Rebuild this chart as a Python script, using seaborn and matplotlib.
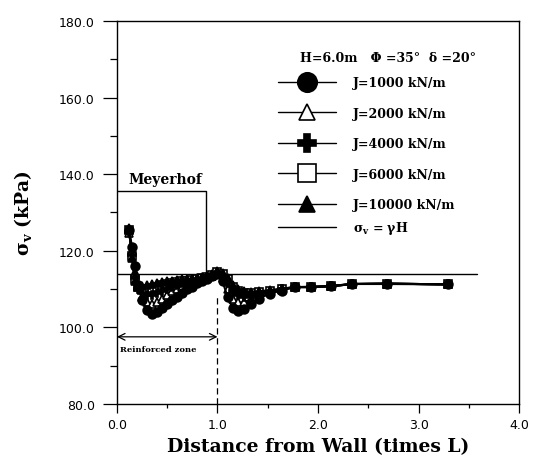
import numpy as np
import pandas as pd
import seaborn as sns
import matplotlib
matplotlib.use("Agg")
import matplotlib.pyplot as plt
from matplotlib.lines import Line2D
from matplotlib.ticker import MultipleLocator, FormatStrFormatter

# Distance from wall (times L) at which stresses were evaluated
distance = [0.12, 0.15, 0.18, 0.21, 0.25, 0.30, 0.35, 0.40, 0.45, 0.50,
            0.55, 0.60, 0.65, 0.70, 0.75, 0.80, 0.85, 0.90, 0.95, 1.00,
            1.05, 1.10, 1.15, 1.20, 1.26, 1.33, 1.41, 1.52, 1.64, 1.77,
            1.93, 2.13, 2.34, 2.69, 3.29]

# Vertical stress (kPa) for each reinforcement stiffness
sv_j1000 = [125.5, 121.0, 116.0, 111.0, 107.0, 104.5, 103.5, 104.0, 105.0, 106.0,
            107.0, 108.0, 109.0, 110.0, 110.5, 111.5, 112.0, 112.5, 113.5, 114.0,
            112.0, 108.0, 105.0, 104.3, 104.8, 106.0, 107.5, 108.8, 109.6, 110.5,
            110.5, 110.8, 111.3, 111.3, 111.2]
sv_j2000 = [124.5, 120.0, 114.5, 110.5, 108.0, 106.5, 106.0, 106.5, 107.5, 108.5,
            109.5, 110.0, 110.5, 111.0, 111.5, 112.0, 112.5, 113.0, 113.5, 114.0,
            113.0, 110.0, 107.5, 106.5, 106.5, 107.3, 108.2, 109.2, 109.8, 110.5,
            110.6, 110.8, 111.3, 111.4, 111.2]
sv_j4000 = [125.0, 119.0, 113.0, 110.0, 109.0, 108.5, 108.5, 109.0, 109.5, 110.0,
            110.5, 111.0, 111.5, 111.8, 112.0, 112.3, 112.5, 113.0, 113.5, 114.2,
            113.5, 111.5, 109.5, 108.3, 108.0, 108.2, 108.7, 109.3, 110.0, 110.5,
            110.5, 110.7, 111.3, 111.4, 111.2]
sv_j6000 = [125.5, 118.5, 112.5, 110.5, 110.0, 110.0, 110.2, 110.5, 111.0, 111.3,
            111.6, 111.8, 112.0, 112.2, 112.4, 112.6, 112.8, 113.1, 113.6, 114.4,
            114.0, 112.5, 110.5, 109.5, 109.0, 109.0, 109.2, 109.5, 110.0, 110.5,
            110.5, 110.7, 111.3, 111.4, 111.2]
sv_j10000 = [126.0, 118.0, 112.0, 111.0, 110.8, 111.0, 111.2, 111.5, 111.8, 112.0,
             112.2, 112.4, 112.5, 112.6, 112.7, 112.9, 113.1, 113.4, 113.8, 114.6,
             114.2, 113.0, 111.0, 110.0, 109.5, 109.3, 109.4, 109.7, 110.1, 110.5,
             110.5, 110.7, 111.3, 111.4, 111.2]

series_labels = ["J=1000 kN/m", "J=2000 kN/m", "J=4000 kN/m",
                 "J=6000 kN/m", "J=10000 kN/m"]
series_values = [sv_j1000, sv_j2000, sv_j4000, sv_j6000, sv_j10000]

# Reference lines
gamma_h = 114.0            # overburden stress gamma*H
gamma_h_extent = [0.0, 3.58]
meyerhof_width = 0.89
meyerhof_stress = 135.7
reinforced_length = 1.0

x_ticks = [0.0, 1.0, 2.0, 3.0, 4.0]
y_ticks = [80.0, 100.0, 120.0, 140.0, 160.0, 180.0]

sns.set_theme(style="ticks")
plt.rcParams["font.family"] = ["DejaVu Sans"]
plt.rcParams["text.color"] = "black"
plt.rcParams["axes.labelcolor"] = "black"
serif = ["DejaVu Serif"]

fig = plt.figure(figsize=(5.39, 4.60), dpi=100)
ax = fig.add_axes([0.217, 0.120, 0.746, 0.832])

styles = {
    "J=1000 kN/m": dict(marker="o", mfc="black", ms=14),
    "J=2000 kN/m": dict(marker="^", mfc="white", ms=12),
    "J=4000 kN/m": dict(marker="P", mfc="black", ms=13),
    "J=6000 kN/m": dict(marker="s", mfc="white", ms=13),
    "J=10000 kN/m": dict(marker="^", mfc="black", ms=12),
}

frames = []
for lab, vals in zip(series_labels, series_values):
    frames.append(pd.DataFrame({"distance": distance, "stress": vals, "case": lab}))
data = pd.concat(frames, ignore_index=True)

# open markers first, filled ones on top
draw_order = ["J=6000 kN/m", "J=2000 kN/m", "J=10000 kN/m", "J=4000 kN/m", "J=1000 kN/m"]
for lab in draw_order:
    st = styles[lab]
    sub = data[data["case"] == lab]
    sns.lineplot(data=sub, x="distance", y="stress", ax=ax, color="black",
                 linewidth=1.5, marker=st["marker"], markersize=6.3,
                 markerfacecolor=st["mfc"], markeredgecolor="black",
                 markeredgewidth=1.2, legend=False, sort=False)

# overburden line sigma_v = gamma*H
ax.plot(gamma_h_extent, [gamma_h, gamma_h], color="black", linewidth=1.0)
# Meyerhof distribution
ax.plot([0.0, meyerhof_width, meyerhof_width],
        [meyerhof_stress, meyerhof_stress, gamma_h], color="black", linewidth=1.0)
ax.text(0.11, 137.7, "Meyerhof", family=serif, fontweight="bold", fontsize=10)

# reinforced zone marker
ax.plot([reinforced_length, reinforced_length], [80.0, 108.0], color="black",
        linewidth=0.9, linestyle=(0, (5, 3)))
ax.annotate("", xy=(0.0, 97.5), xytext=(reinforced_length, 97.5),
            arrowprops=dict(arrowstyle="<->", color="black", lw=0.9,
                            shrinkA=0, shrinkB=0))
ax.text(0.03, 94.4, "Reinforced zone", family=serif, fontweight="bold",
        fontsize=6, va="center")

ax.set_xlim(0, 4.0)
ax.set_ylim(80, 180)
ax.set_xticks(x_ticks)
ax.set_yticks(y_ticks)
ax.xaxis.set_minor_locator(MultipleLocator(0.5))
ax.yaxis.set_minor_locator(MultipleLocator(10))
ax.xaxis.set_major_formatter(FormatStrFormatter("%.1f"))
ax.yaxis.set_major_formatter(FormatStrFormatter("%.1f"))
ax.tick_params(axis="both", which="both", direction="out", width=0.9,
               color="black", labelcolor="black", labelsize=9)
ax.tick_params(axis="y", which="major", length=10, pad=6)
ax.tick_params(axis="y", which="minor", length=5)
ax.tick_params(axis="x", which="major", length=6.5, pad=4)
ax.tick_params(axis="x", which="minor", length=3)
for sp in ax.spines.values():
    sp.set_color("black")
    sp.set_linewidth(1.0)

ax.set_xlabel("Distance from Wall (times L)", family=serif, fontweight="bold",
              fontsize=13.5)
ax.xaxis.set_label_coords(0.5, -0.088)
ax.set_ylabel(r"σ$_\mathregular{v}$ (kPa)", family=serif, fontweight="bold",
              fontsize=13.5)
ax.yaxis.set_label_coords(-0.205, 0.5)

# parameter line above the legend
ax.text(1.82, 170.6, "H=6.0m   Φ =35°  δ =20°", family=serif, fontweight="bold",
        fontsize=9, va="center")

# legend
handles = []
for lab in series_labels:
    st = styles[lab]
    handles.append(Line2D([], [], color="black", linewidth=1.0, marker=st["marker"],
                          markersize=st["ms"], markerfacecolor=st["mfc"],
                          markeredgecolor="black", markeredgewidth=1.2))
leg_font = dict(family=serif, weight="bold", size=9)
leg = ax.legend(handles, series_labels, loc="upper left",
                bbox_to_anchor=(0.4005, 0.856), frameon=False,
                handlelength=4.6, handletextpad=1.4, labelspacing=1.4,
                borderaxespad=0, borderpad=0, prop=leg_font)
ax.add_artist(leg)
ax.legend([Line2D([], [], color="black", linewidth=1.0)],
          [r"σ$_\mathregular{v}$ = γH"], loc="upper left",
          bbox_to_anchor=(0.4005, 0.482), frameon=False,
          handlelength=4.6, handletextpad=1.4, borderaxespad=0, borderpad=0,
          prop=leg_font)

fig.savefig("out.png", dpi=100, facecolor="white")
